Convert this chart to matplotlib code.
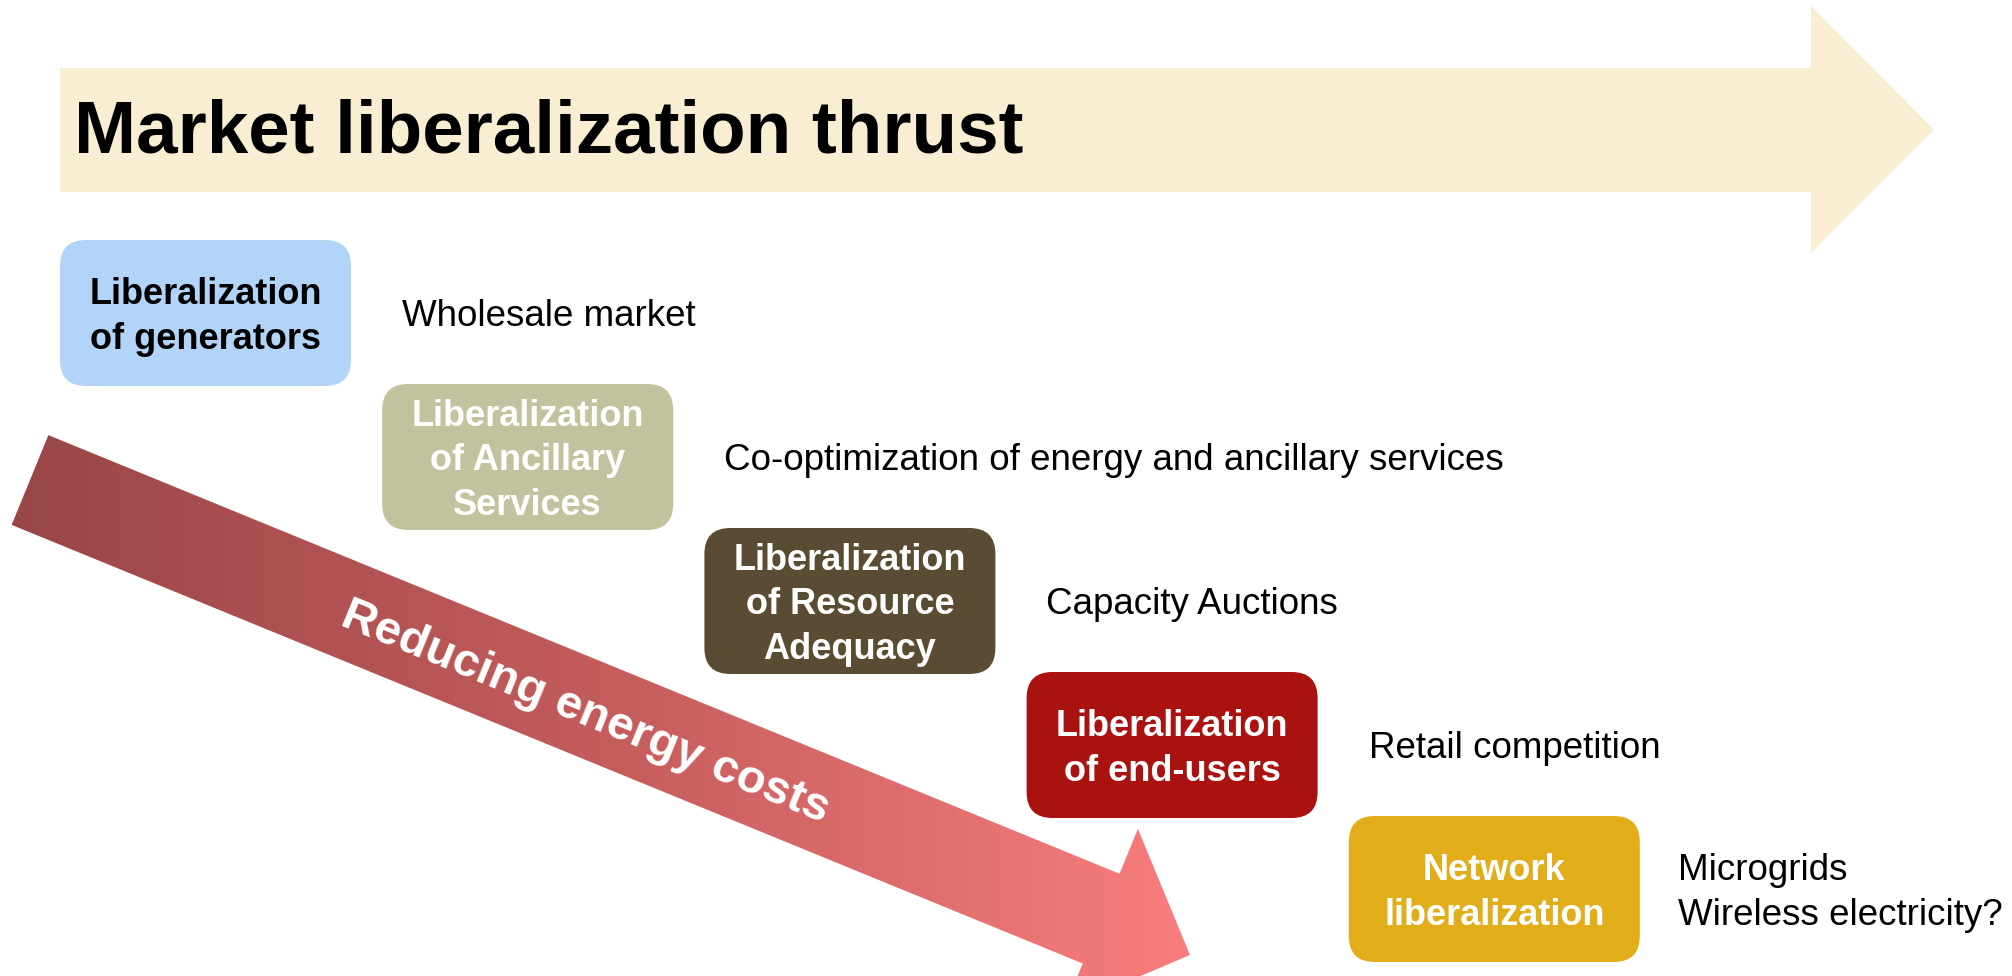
import numpy as np
import matplotlib
matplotlib.use("Agg")
import matplotlib.pyplot as plt
from matplotlib.patches import Polygon, FancyBboxPatch
from matplotlib.colors import LinearSegmentedColormap

plt.rcParams['font.family'] = ['Liberation Sans', 'DejaVu Sans']

# ---- content ----
title = "Market liberalization thrust"
stages = ["Liberalization\nof generators",
          "Liberalization\nof Ancillary\nServices",
          "Liberalization\nof Resource\nAdequacy",
          "Liberalization\nof end-users",
          "Network\nliberalization"]
descriptions = ["Wholesale market",
                "Co-optimization of energy and ancillary services",
                "Capacity Auctions",
                "Retail competition",
                "Microgrids\nWireless electricity?"]
box_colors = ["#B1D4F8", "#C2C29E", "#5A4C33", "#AA1210", "#E1AE19"]
text_colors = ["black", "white", "white", "white", "white"]
arrow_label = "Reducing energy costs"

W, H = 2012, 976
fig = plt.figure(figsize=(W / 100, H / 100), dpi=100)
ax = fig.add_axes([0, 0, 1, 1])
ax.set_xlim(0, W)
ax.set_ylim(H, 0)
ax.axis('off')

# ---- top thrust arrow ----
top = [(60, 68), (1811, 68), (1811, 6), (1934, 130), (1811, 253), (1811, 192), (60, 192)]
ax.add_patch(Polygon(top, closed=True, facecolor="#FAEED2", edgecolor="none", zorder=1))
ax.text(74, 133, title, fontsize=53.7, fontweight='bold', ha='left', va='center',
        color='black', zorder=5)

# ---- diagonal gradient arrow ----
start = np.array([30.0, 480.0])
tip = np.array([1190.0, 955.0])
d = tip - start
L = np.hypot(*d)
u = d / L
n = np.array([-u[1], u[0]])
head_len, hw_body, hw_head = 96.0, 48.5, 97.0
base = start + u * (L - head_len)
pts = [start - n * hw_body, base - n * hw_body, base - n * hw_head, tip,
       base + n * hw_head, base + n * hw_body, start + n * hw_body]
poly = Polygon(pts, closed=True, facecolor='none', edgecolor='none', zorder=2)
ax.add_patch(poly)
cmap = LinearSegmentedColormap.from_list("red", ["#984646", "#C45C5C", "#FA7E7E"])
grad = np.linspace(0, 1, 512).reshape(1, -1)
im = ax.imshow(grad, cmap=cmap, extent=(5, 1200, 1000, 420), aspect='auto',
               zorder=2, interpolation='bilinear')
im.set_clip_path(poly)
ax.set_xlim(0, W)
ax.set_ylim(H, 0)
angle = np.degrees(np.arctan2(d[1], d[0]))
ax.text(585, 713, arrow_label, fontsize=34.2, fontweight='bold', color='white',
        rotation=-angle, rotation_mode='anchor', ha='center', va='center', zorder=6)

# ---- stage boxes and descriptions ----
bw, bh = 291, 146
gaps = [51, 51, 51, 51, 38]
for i, (lab, desc, fc, tc) in enumerate(zip(stages, descriptions, box_colors, text_colors)):
    x0 = 60 + i * 322.2
    y0 = 240 + i * 144
    ax.add_patch(FancyBboxPatch((x0, y0), bw, bh,
                                boxstyle="round,pad=0,rounding_size=26",
                                facecolor=fc, edgecolor='none', zorder=4))
    ax.text(x0 + bw / 2, y0 + bh / 2 + 4, lab, fontsize=26, fontweight='bold',
            color=tc, ha='center', va='center', linespacing=1.36, zorder=5)
    ax.text(x0 + bw + gaps[i], y0 + bh / 2 + 4, desc, fontsize=26.5, color='black',
            ha='left', va='center', linespacing=1.34, zorder=5)

fig.savefig("out.png", dpi=100)
